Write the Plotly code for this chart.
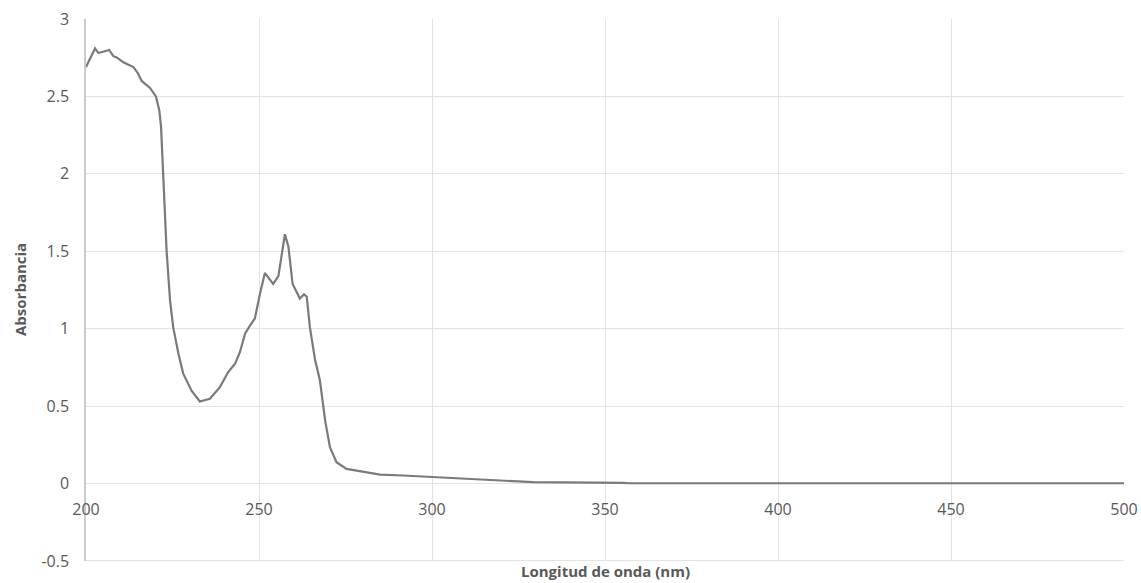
import plotly.graph_objects as go

# UV-Vis absorption spectrum
wavelength_nm = [
    200, 202.6, 203.6, 205, 206.7, 207.9, 209, 210.8, 213.7, 215, 216.1, 218.5,
    220.2, 221.2, 221.7, 222.3, 222.8, 223.3, 224.3, 225.2, 226.7, 228.1, 230.5,
    232.9, 235.8, 238.7, 241.1, 243.1, 244.5, 246, 247.4, 248.8, 250.3, 251.7,
    254.1, 255.6, 257.5, 258.5, 259.7, 261.8, 263, 263.8, 264.7, 266.2, 267.6,
    269.1, 270.5, 272.4, 275.3, 279.2, 285, 291.6, 300.3, 313.9, 329.2, 355.2,
    357, 500,
]
absorbance = [
    2.69, 2.81, 2.78, 2.79, 2.80, 2.76, 2.75, 2.72, 2.69, 2.65, 2.60, 2.555,
    2.50, 2.41, 2.30, 2.00, 1.75, 1.50, 1.18, 1.01, 0.84, 0.71, 0.60,
    0.53, 0.548, 0.623, 0.72, 0.775, 0.85, 0.97, 1.02, 1.066, 1.228, 1.36,
    1.29, 1.34, 1.61, 1.53, 1.29, 1.195, 1.223, 1.206, 1.01, 0.80, 0.667,
    0.41, 0.235, 0.138, 0.095, 0.080, 0.058, 0.052, 0.041, 0.026, 0.009, 0.005,
    0.002, 0.002,
]

x_ticks = [200, 250, 300, 350, 400, 450, 500]
y_ticks = [-0.5, 0, 0.5, 1, 1.5, 2, 2.5, 3]
y_tick_text = ["-0.5", "0", "0.5", "1", "1.5", "2", "2.5", "3"]

x_title = "Longitud de onda (nm)"
y_title = "Absorbancia"

grid_color = "#e3e3e3"
tick_font = dict(family="Open Sans", size=16, color="#595959")

fig = go.Figure()
fig.add_trace(go.Scatter(
    x=wavelength_nm, y=absorbance, mode="lines",
    line=dict(color="#7a7a7a", width=2.2, shape="linear"),
    showlegend=False, hoverinfo="x+y",
))

fig.update_layout(
    width=1141, height=583,
    margin=dict(l=86, r=17, t=19, b=22, autoexpand=False),
    paper_bgcolor="white", plot_bgcolor="white",
    xaxis=dict(
        range=[200, 500], tickvals=x_ticks,
        showgrid=True, gridcolor=grid_color, gridwidth=1,
        zeroline=False, showline=False, ticks="",
        anchor="free", position=(0.5 / 3.5), automargin=False,
        tickfont=tick_font, ticklabelstandoff=14,
    ),
    yaxis=dict(
        range=[-0.5, 3], tickvals=y_ticks, ticktext=y_tick_text,
        showgrid=True, gridcolor=grid_color, gridwidth=1,
        zeroline=False, showline=True, linecolor="#c5ccd3", linewidth=1.5,
        ticks="", tickfont=tick_font, ticklabelstandoff=12, automargin=False,
    ),
    shapes=[
        # bottom border line of the plotting area (the -0.5 grid level)
        dict(type="line", xref="x", yref="y", x0=200, x1=500, y0=-0.499, y1=-0.499,
             line=dict(color=grid_color, width=1.5), layer="below"),
    ],
    annotations=[
        dict(text="<b>" + x_title + "</b>", xref="paper", yref="paper",
             x=0.5, y=0, yanchor="middle", yshift=-10, showarrow=False,
             font=dict(family="Open Sans", size=15, color="#595959")),
        dict(text="<b>" + y_title + "</b>", xref="paper", yref="paper",
             x=0, y=0.5, xanchor="center", xshift=-66, textangle=-90,
             showarrow=False,
             font=dict(family="Open Sans", size=15, color="#595959")),
    ],
)

fig.write_html("out.html")
